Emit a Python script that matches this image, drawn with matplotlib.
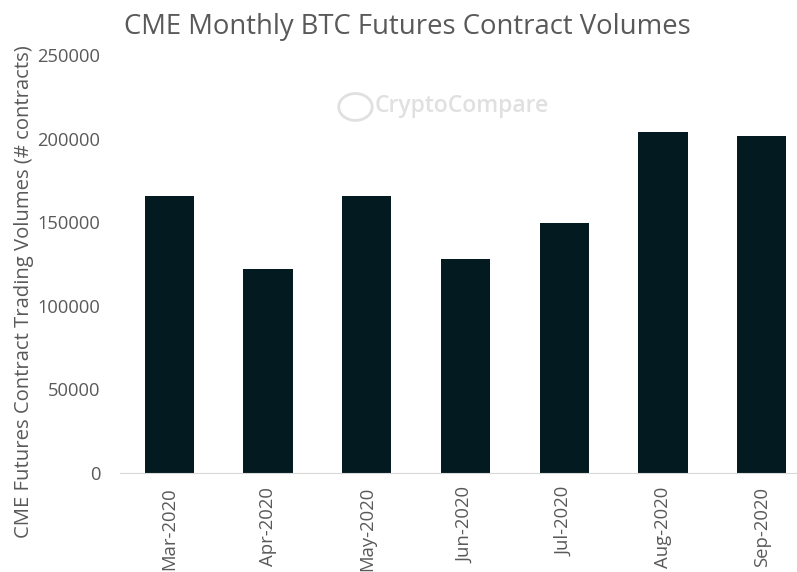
import matplotlib
matplotlib.use('Agg')
import matplotlib.pyplot as plt
from matplotlib.patches import Ellipse
import numpy as np

plt.rcParams['font.family'] = ['Open Sans', 'DejaVu Sans']

months = ['Mar-2020', 'Apr-2020', 'May-2020', 'Jun-2020', 'Jul-2020', 'Aug-2020', 'Sep-2020']
volumes = [165700, 122000, 165700, 128000, 149500, 204000, 201500]

grey = '#595959'
fig = plt.figure(figsize=(7.97, 5.72), dpi=100)
ax = fig.add_axes([0.1506, 0.173, 0.867, 0.7308])

x = np.arange(len(months))
ax.bar(x, volumes, width=0.5, color='#031a21')
ax.set_xlim(-0.5, len(months) - 0.5)
ax.set_ylim(0, 250000)
ax.set_yticks(np.arange(0, 250001, 50000))
ax.set_xticks(x)
ax.set_xticklabels(months, rotation=90)
ax.tick_params(axis='y', length=0, labelsize=13.2, colors=grey, pad=14)
ax.tick_params(axis='x', length=0, labelsize=13.3, colors=grey, pad=10)
for s in ['top', 'right', 'left']:
   ax.spines[s].set_visible(False)
ax.spines['bottom'].set_color('#d9d9d9')
ax.set_ylabel('CME Futures Contract Trading Volumes (# contracts)', fontsize=14.6, color=grey)
ax.yaxis.set_label_coords(-0.125, 0.435)

fig.text(0.511, 0.978, 'CME Monthly BTC Futures Contract Volumes', ha='center', va='top',
         fontsize=19.8, color=grey)

# watermark
fig.text(0.47, 0.815, 'CryptoCompare', ha='left', va='center', fontsize=16.5,
         fontweight='semibold', color='#e0e0e0')
fig.add_artist(Ellipse((0.446, 0.813), 0.042, 0.047, transform=fig.transFigure,
                       fill=False, edgecolor='#e0e0e0', linewidth=2))

fig.savefig('out.png', dpi=100)
